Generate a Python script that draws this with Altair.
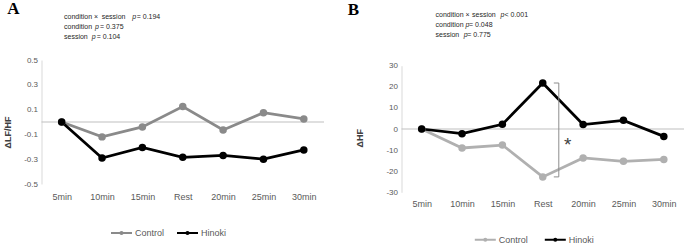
import altair as alt
import pandas as pd

SANS = "Liberation Sans"
SERIF = "Liberation Serif"

sessions = ["5min", "10min", "15min", "Rest", "20min", "25min", "30min"]
series = ["Control", "Hinoki"]

lfhf_control = [0.0, -0.12, -0.04, 0.125, -0.065, 0.075, 0.025]
lfhf_hinoki = [0.0, -0.29, -0.205, -0.285, -0.27, -0.30, -0.225]
hf_control = [0.0, -9.0, -7.6, -22.7, -13.7, -15.3, -14.4]
hf_hinoki = [0.0, -2.2, 2.2, 21.8, 2.1, 4.1, -3.5]

lfhf_ticks = [-0.5, -0.3, -0.1, 0.1, 0.3, 0.5]
hf_ticks = [-30, -20, -10, 0, 10, 20, 30]

stats_a = [["condition ×", "session", "p", "= 0.194"],
           ["condition", "", "p", "= 0.375"],
           ["session", "", "p", "= 0.104"]]
stats_b = [["condition ×", "session", "p", "< 0.001"],
           ["condition", "", "p", "= 0.048"],
           ["session", "", "p", "= 0.775"]]

LEGEND_PATH = "M-1,0L1,0 M0.1,0A0.1,0.1,0,1,1,-0.1,0A0.1,0.1,0,1,1,0.1,0Z"

W = 282.5
OX, OY = 41.5, 60  # origin of panel A plot (top-level padding)
BX = 401           # left edge of panel B plot


def txt(s, x, y, size=7, style="normal", weight="normal", font=SANS,
        color="#262626", align="left", baseline="middle"):
    return alt.Chart(pd.DataFrame({"t": [s]})).mark_text(
        align=align, baseline=baseline, fontSize=size, fontStyle=style,
        fontWeight=weight, font=font, color=color
    ).encode(x=alt.value(x), y=alt.value(y), text="t:N")


def stats_layers(lines, x0, xs, ys):
    out = []
    for (a, b, p, c), (xb, xp, xc), y in zip(lines, xs, ys):
        out.append(txt(a, x0, y))
        if b:
            out.append(txt(b, xb, y))
        out.append(txt(p, xp, y, style="italic"))
        out.append(txt(c, xc, y))
    return out


def make_axes(yticks, ytitle, title_x, title_y, fmt, xlabpad):
    xaxis = alt.Axis(title=None, labelAngle=0, domain=False, ticks=False,
                     labelPadding=xlabpad, labelFontSize=9,
                     labelColor="#595959", labelFont=SANS)
    yaxis = alt.Axis(values=yticks, title=ytitle, grid=False, ticks=False,
                     domainColor="#d9d9d9", domainWidth=1,
                     labelPadding=4, labelFontSize=8, labelColor="#595959",
                     labelFont=SANS,
                     labelExpr="replace(format(datum.value, '%s'), '\u2212', '-')" % fmt,
                     titleX=title_x, titleY=title_y, titleAngle=270,
                     titleAlign="center", titleBaseline="middle",
                     titleFont=SANS, titleFontSize=9, titleFontWeight="bold",
                     titleColor="#404040")
    return xaxis, yaxis


def panel(ctrl, hino, colors, yscale, xaxis, yaxis, leg_x, leg_y, colpad):
    df = pd.DataFrame({
        "session": sessions * 2,
        "group": [series[0]] * len(sessions) + [series[1]] * len(sessions),
        "value": list(ctrl) + list(hino),
    })
    x = alt.X("session:N", sort=sessions,
              scale=alt.Scale(type="point", padding=0.5), axis=xaxis)
    y = alt.Y("value:Q", scale=yscale, axis=yaxis)
    cscale = alt.Scale(domain=series, range=colors)
    base = alt.Chart(df)
    zero = alt.Chart(pd.DataFrame({"z": [0.0]})).mark_rule(
        color="#bfbfbf", strokeWidth=1
    ).encode(y=alt.Y("z:Q", scale=yscale, axis=yaxis), x=alt.value(0), x2=alt.value(W))
    line = base.mark_line(strokeWidth=2.75).encode(
        x=x, y=y,
        color=alt.Color("group:N", scale=cscale, sort=series,
                        legend=alt.Legend(title=None, orient="none", legendX=leg_x,
                                          legendY=leg_y, direction="horizontal",
                                          symbolType=LEGEND_PATH, symbolSize=441,
                                          symbolStrokeWidth=2, labelFontSize=9,
                                          labelColor="#595959", labelFont=SANS,
                                          labelOffset=2, columnPadding=colpad,
                                          padding=0, rowPadding=0)))
    pts = base.mark_circle(size=56, opacity=1).encode(
        x=x, y=y,
        color=alt.Color("group:N", scale=cscale, sort=series, legend=None))
    return zero, line, pts


# ---------- Panel A ----------
scaleA = alt.Scale(domain=[-0.5, 0.5], nice=False, zero=False)
xaA, yaA = make_axes(lfhf_ticks, "\u0394LF/HF", -34.5, 72, ".1f", 8)
zA, lA, pA = panel(lfhf_control, lfhf_hinoki, ["#8a8a8a", "#000000"],
                   scaleA, xaA, yaA, 110 - OX, 161.3, 8)
textA = [txt("A", -34.2, -46, size=17, weight="bold", font=SERIF,
             color="#000000", baseline="alphabetic")]
textA += stats_layers(stats_a, 22.5,
                      [(60.2, 90.8, 95.2), (0, 53.5, 58.5), (0, 50.2, 55.2)],
                      [-43.3, -33.3, -22.7])
panelA = alt.layer(zA, lA, pA, *textA).properties(width=W, height=124)

# ---------- Panel B ----------
scaleB = alt.Scale(domain=[-30, 30], range=[132.3, 5.7], nice=False, zero=False)
xaB, yaB = make_axes(hf_ticks, "\u0394HF", -42.2, 77.7, "d", 6)
zB, lB, pB = panel(hf_control, hf_hinoki, ["#b0b0b0", "#000000"],
                   scaleB, xaB, yaB, 473.3 - BX, 168, 12)
rest_i = sessions.index("Rest")
bdf = pd.DataFrame({"top": [hf_hinoki[rest_i]], "bot": [hf_control[rest_i]]})
br_v = alt.Chart(bdf).mark_rule(color="#8c8c8c", strokeWidth=1).encode(
    x=alt.value(157.3), y=alt.Y("top:Q", scale=scaleB, axis=yaB), y2="bot:Q")
br_t = alt.Chart(bdf).mark_rule(color="#8c8c8c", strokeWidth=1).encode(
    x=alt.value(152.3), x2=alt.value(157.3), y=alt.Y("top:Q", scale=scaleB, axis=yaB))
br_b = alt.Chart(bdf).mark_rule(color="#8c8c8c", strokeWidth=1).encode(
    x=alt.value(152.3), x2=alt.value(157.3), y=alt.Y("bot:Q", scale=scaleB, axis=yaB))
textB = [txt("B", -53.7, -45, size=17, weight="bold", font=SERIF,
             color="#000000", baseline="alphabetic"),
         txt("*", 166.3, 85, size=19, color="#404040", align="center")]
textB += stats_layers(stats_b, 34,
                      [(70.5, 99, 103), (0, 64, 67.5), (0, 62.3, 65.7)],
                      [-45, -35, -25])
panelB = alt.layer(zB, lB, pB, br_v, br_t, br_b, *textB).properties(width=W, height=133)

chart = alt.HConcatChart(hconcat=[panelA, panelB], spacing=BX - OX - W, bounds="flush").properties(
    autosize=alt.AutoSizeParams(type="none"),
    padding={"left": OX, "top": OY, "right": 685 - OX, "bottom": 244 - OY},
).resolve_scale(color="independent").resolve_legend(color="independent"
).configure(font=SANS).configure_view(stroke=None)

chart.save("out.html", embed_options={"renderer": "svg", "actions": False})
